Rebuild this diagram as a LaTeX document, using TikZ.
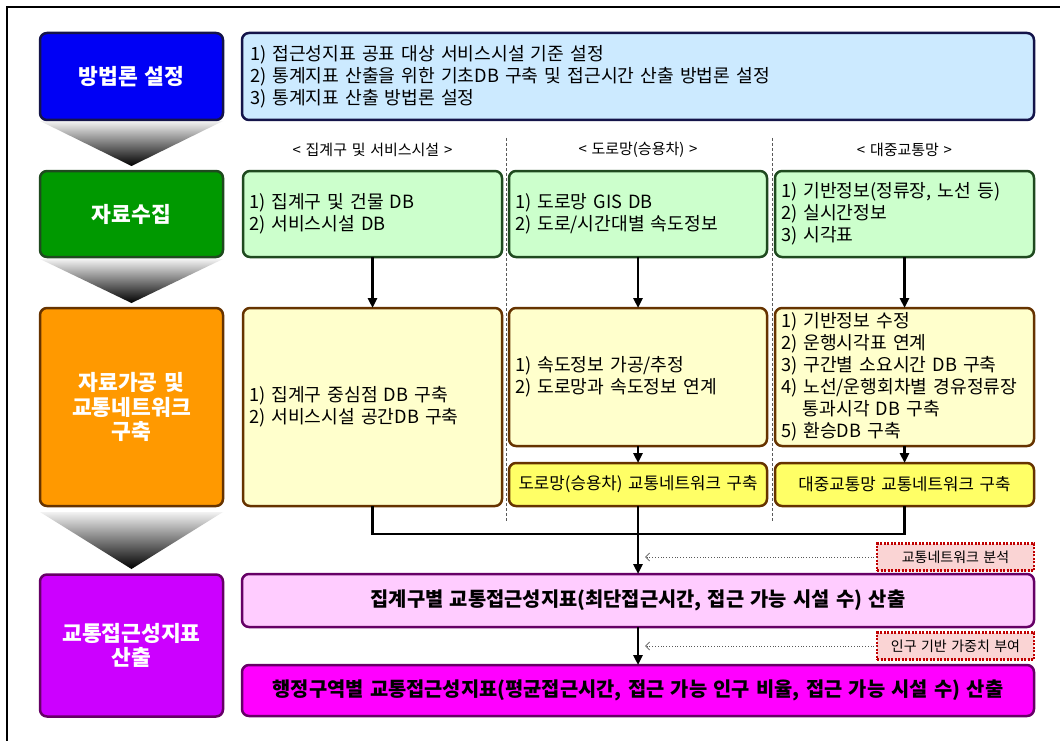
\documentclass[tikz,border=0pt]{standalone}
\usepackage{fontspec}
\usetikzlibrary{arrows.meta}
\newfontfamily\kr[WordSpace=2.1]{Noto Sans CJK KR}
\newfontfamily\krn[WordSpace=1.4]{Noto Sans CJK KR}
\definecolor{blueL}{HTML}{0000F5}
\definecolor{navyB}{HTML}{14144A}
\definecolor{skyF}{HTML}{CCEAFF}
\definecolor{greenL}{HTML}{009900}
\definecolor{greenB}{HTML}{1F4A1F}
\definecolor{greenF}{HTML}{CCFFCC}
\definecolor{orangeL}{HTML}{FF9900}
\definecolor{brownB}{HTML}{663300}
\definecolor{yelF}{HTML}{FFFFCC}
\definecolor{yelS}{HTML}{FFFF66}
\definecolor{purpL}{HTML}{CC00FF}
\definecolor{purpB}{HTML}{660066}
\definecolor{pinkF}{HTML}{FFCCFF}
\definecolor{magF}{HTML}{FF00FF}
\definecolor{dotF}{HTML}{FAD4D4}
\definecolor{dotB}{HTML}{C00000}
\begin{document}
\begin{tikzpicture}[x=1pt,y=-1pt,
  box/.style={draw, rounded corners=7pt, line width=2.5pt, inner xsep=8pt, inner ysep=0pt, outer sep=0pt},
  lbl/.style={box, text=white, font=\krn\bfseries\fontsize{21.5}{24.5}\selectfont, align=center, minimum width=183, text width=167},
  body/.style={box, font=\kr\fontsize{18.2}{22}\selectfont, align=left},
  big/.style={box, font=\krn\bfseries\fontsize{19.8}{24}\selectfont, align=center, minimum width=792},
  hdr/.style={font=\kr\fontsize{15}{16}\selectfont, inner sep=0pt},
  note/.style={draw=dotB, fill=dotF, line width=2.5pt, dash pattern=on 2pt off 1.5pt, font=\kr\fontsize{14}{15}\selectfont, minimum width=157, minimum height=27, inner sep=0pt, outer sep=0pt},
  conn/.style={line width=2.5pt, -{Triangle[length=10pt,width=9pt]}},
  plain/.style={line width=2.5pt},
  dotarr/.style={gray!70!black, line width=0.8pt, dotted, -{Straight Barb[length=4pt,width=8pt]}},
  sep/.style={gray!70!black, line width=0.7pt, dash pattern=on 3pt off 2pt},
  chev/.style={top color=gray!10, middle color=gray!45, bottom color=black}
]
\useasboundingbox (0,0) rectangle (1060,741);
\fill[white] (0,0) rectangle (1060,741);
\draw[line width=2pt] (7,741) -- (7,7) -- (1060,7);

% chevrons
\shade[chev] (40,121) -- (223,121) -- (131.5,166) -- cycle;
\shade[chev] (40,259) -- (223,259) -- (131.5,303) -- cycle;
\shade[chev] (40,512) -- (223,512) -- (131.5,569) -- cycle;

% separators
\coordinate (s1a) at (506,138); \coordinate (s1b) at (506,522);
\coordinate (s2a) at (772,138); \coordinate (s2b) at (772,522);
\draw[sep] (s1a) -- (s1b);
\draw[sep] (s2a) -- (s2b);

% left labels
\node[lbl, fill=blueL, draw=navyB, minimum height=87] (L1) at (131.5,76.5) {방법론 설정};
\node[lbl, fill=greenL, draw=greenB, minimum height=86] (L2) at (131.5,214) {자료수집};
\node[lbl, fill=orangeL, draw=brownB, minimum height=198] (L3) at (131.5,407) {자료가공 및\\교통네트워크\\구축};
\node[lbl, fill=purpL, draw=purpB, minimum height=142] (L4) at (131.5,645.5) {교통접근성지표\\산출};

% top box
\node[body, fill=skyF, draw=navyB, minimum width=792, minimum height=87, text width=776] (T) at (638,76.5)
 {1) 접근성지표 공표 대상 서비스시설 기준 설정\\2) 통계지표 산출을 위한 기초DB 구축 및 접근시간 산출 방법론 설정\\3) 통계지표 산출 방법론 설정};

% headers
\node[hdr] (h1) at (372.5,150) {<\ 집계구 및 서비스시설\ >};
\node[hdr] (h2) at (638,150) {<\ 도로망(승용차)\ >};
\node[hdr] (h3) at (904.5,150) {<\ 대중교통망\ >};

% data collection
\node[body, fill=greenF, draw=greenB, minimum width=259, minimum height=86, text width=247, inner xsep=6pt] (G1) at (372.5,214)
 {1) 집계구 및 건물 DB\\2) 서비스시설 DB};
\node[body, fill=greenF, draw=greenB, minimum width=258, minimum height=86, text width=246, inner xsep=6pt] (G2) at (638,214)
 {1) 도로망 GIS DB\\2) 도로/시간대별 속도정보};
\node[body, fill=greenF, draw=greenB, minimum width=259, minimum height=86, text width=247, inner xsep=6pt] (G3) at (904.5,214)
 {1) 기반정보(정류장, 노선 등)\\2) 실시간정보\\3) 시각표};

% processing
\node[body, fill=yelF, draw=brownB, minimum width=259, minimum height=198, text width=247, inner xsep=6pt] (P1) at (372.5,407)
 {1) 집계구 중심점 DB 구축\\2) 서비스시설 공간DB 구축};
\node[body, fill=yelF, draw=brownB, minimum width=258, minimum height=138, text width=246, inner xsep=6pt] (P2) at (638,377)
 {1) 속도정보 가공/추정\\2) 도로망과 속도정보 연계};
\node[body, fill=yelF, draw=brownB, minimum width=259, minimum height=138, text width=247, inner xsep=6pt] (P3) at (904.5,377)
 {1) 기반정보 수정\\2) 운행시각표 연계\\3) 구간별 소요시간 DB 구축\\4) 노선/운행회차별 경유정류장\\\hspace*{1.2em}통과시각 DB 구축\\5) 환승DB 구축};

\node[body, font=\krn\fontsize{16.8}{20}\selectfont, fill=yelS, draw=brownB, minimum width=258, minimum height=43, align=center, text width=252, inner xsep=3pt] (Y2) at (638,484.5)
 {도로망(승용차) 교통네트워크 구축};
\node[body, font=\krn\fontsize{16.8}{20}\selectfont, fill=yelS, draw=brownB, minimum width=259, minimum height=43, align=center, text width=253, inner xsep=3pt] (Y3) at (904.5,484.5)
 {대중교통망 교통네트워크 구축};

% results
\node[big, fill=pinkF, draw=purpB, minimum height=53] (Pk) at (638,600.5)
 {집계구별 교통접근성지표(최단접근시간, 접근 가능 시설 수) 산출};
\node[big, fill=magF, draw=purpB, minimum height=51] (Mg) at (638,690.5)
 {행정구역별 교통접근성지표(평균접근시간, 접근 가능 인구 비율, 접근 가능 시설 수) 산출};

% notes
\node[note] (D1) at (955.5,557) {교통네트워크 분석};
\node[note] (D2) at (955.5,646) {인구 기반 가중치 부여};

% connectors
\draw[conn] (G1.south) -- (P1.north);
\draw[conn] (G2.south) -- (P2.north);
\draw[conn] (G3.south) -- (P3.north);
\draw[conn] (P2.south) -- (Y2.north);
\draw[conn] (P3.south) -- (Y3.north);
\coordinate (bus) at (0,534);
\draw[plain] (P1.south) -- (P1.south |- bus) -- (Y3.south |- bus) -- (Y3.south);
\draw[conn] (Y2.south) -- (Pk.north);
\draw[conn] (Pk.south) -- (Mg.north);
\coordinate (t1) at (645,557);
\coordinate (t2) at (645,646);
\draw[dotarr] (D1.west) -- (t1);
\draw[dotarr] (D2.west) -- (t2);
\end{tikzpicture}
\end{document}
